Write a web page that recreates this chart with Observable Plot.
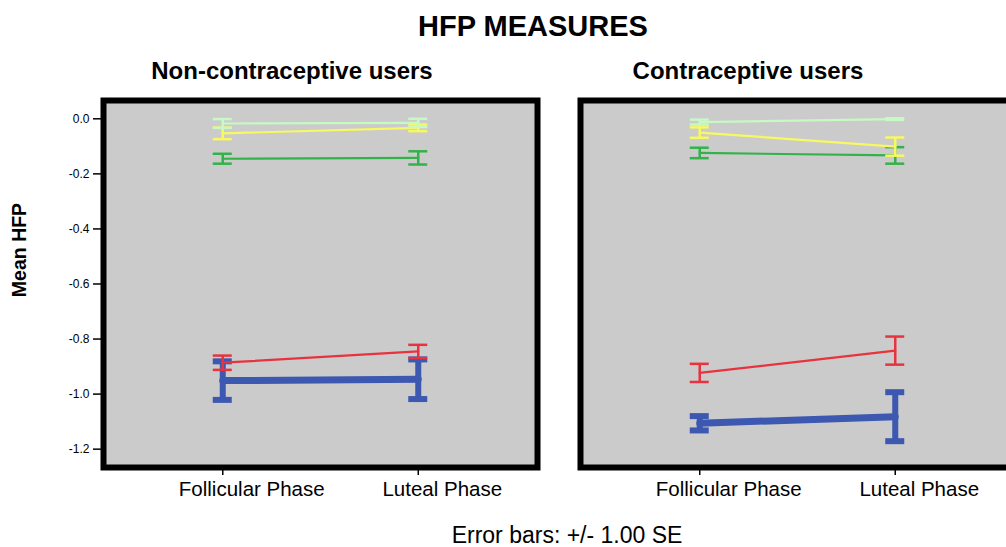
<!DOCTYPE html>
<html>
<head>
<meta charset="utf-8">
<script src="https://cdn.jsdelivr.net/npm/d3@7"></script>
<script src="https://cdn.jsdelivr.net/npm/@observablehq/plot@0.6"></script>
<style>
  html, body { margin: 0; padding: 0; background: white; }
  body { width: 1006px; height: 547px; overflow: hidden; position: relative;
         font-family: "Liberation Sans", Arial, sans-serif; color: #000; }
  .t { position: absolute; white-space: nowrap; line-height: 1; transform: translateX(-50%); }
  #chart { position: absolute; left: 0; top: 80px; width: 1020px; }
</style>
</head>
<body>
<div id="chart"></div>
<div class="t" style="left:533px; top:12px; font-size:29px; font-weight:bold;">HFP MEASURES</div>
<div class="t" style="left:292px; top:58.7px; font-size:24px; font-weight:bold;">Non-contraceptive users</div>
<div class="t" style="left:748px; top:58.7px; font-size:24px; font-weight:bold;">Contraceptive users</div>
<div class="t" style="left:20px; top:250px; font-size:19.5px; font-weight:bold; transform: translate(-50%,-50%) rotate(-90deg);">Mean HFP</div>
<div class="t" style="left:567px; top:523.5px; font-size:23px;">Error bars: +/- 1.00 SE</div>
<script>
// ---- data ----
const groups = ["Non-contraceptive users", "Contraceptive users"];
const phases = ["Follicular Phase", "Luteal Phase"];
const series = ["Measure 1", "Measure 2", "Measure 3", "Measure 4", "Measure 5"];

// means, per series (same order as `series`)
const nonUsersFollicular = [-0.951, -0.886, -0.145, -0.053, -0.017];
const nonUsersLuteal     = [-0.946, -0.845, -0.142, -0.033, -0.015];
const usersFollicular    = [-1.106, -0.923, -0.124, -0.050, -0.012];
const usersLuteal        = [-1.082, -0.842, -0.133, -0.101, -0.001];

// standard errors
const nonUsersFollicularSE = [0.070, 0.026, 0.018, 0.021, 0.016];
const nonUsersLutealSE     = [0.072, 0.024, 0.024, 0.012, 0.015];
const usersFollicularSE    = [0.026, 0.033, 0.019, 0.019, 0.009];
const usersLutealSE        = [0.089, 0.051, 0.030, 0.033, 0.003];

const yTicks = [0, -0.2, -0.4, -0.6, -0.8, -1.0, -1.2];
const yTickLabels = ["0.0", "-0.2", "-0.4", "-0.6", "-0.8", "-1.0", "-1.2"];

// ---- styles ----
const seriesColors = ["#3c58b0", "#e8323e", "#32b34a", "#f8f862", "#c8f8c4"];
const lineWidths  = [7, 2.2, 2.2, 2.2, 2.2];
const barWidths   = [6, 2.5, 2.5, 2.5, 2.5];
const labelShift  = [29, 24];

// ---- build table ----
const rows = [];
series.forEach((s, i) => {
  const cells = [
    [groups[0], phases[0], nonUsersFollicular[i], nonUsersFollicularSE[i]],
    [groups[0], phases[1], nonUsersLuteal[i], nonUsersLutealSE[i]],
    [groups[1], phases[0], usersFollicular[i], usersFollicularSE[i]],
    [groups[1], phases[1], usersLuteal[i], usersLutealSE[i]]
  ];
  for (const [g, p, m, se] of cells) rows.push({series: s, idx: i, group: g, phase: p, mean: m, lo: m - se, hi: m + se});
});

const marks = [Plot.frame({fill: "#cbcbcb"})];
series.forEach((s, i) => {
  const d = rows.filter(r => r.series === s);
  const c = seriesColors[i];
  marks.push(
    Plot.line(d, {x: "phase", y: "mean", z: "group", fx: "group", stroke: c, strokeWidth: lineWidths[i]}),
    Plot.ruleX(d, {x: "phase", y1: "lo", y2: "hi", fx: "group", stroke: c, strokeWidth: barWidths[i]}),
    Plot.ruleY(d, {x1: "phase", x2: "phase", y: "lo", fx: "group", stroke: c, strokeWidth: barWidths[i], insetLeft: -9.5, insetRight: -9.5}),
    Plot.ruleY(d, {x1: "phase", x2: "phase", y: "hi", fx: "group", stroke: c, strokeWidth: barWidths[i], insetLeft: -9.5, insetRight: -9.5})
  );
});
marks.push(
  Plot.frame({stroke: "black", strokeWidth: 6}),
  Plot.axisY({ticks: yTicks, tickFormat: d => yTickLabels[yTicks.indexOf(d)], tickSize: 10, tickPadding: 4,
              fontSize: 12, label: null, strokeWidth: 1.5, fill: "black"}),
  Plot.axisX({tickSize: 8, tickFormat: () => "", label: null, strokeWidth: 1.5}),
  ...phases.map((p, j) => Plot.text([p], {x: d => d, text: d => d, frameAnchor: "bottom", lineAnchor: "top",
                     dy: 14.4, dx: labelShift[j], fontSize: 20.5, fill: "black"}))
);

const chart = Plot.plot({
  width: 1020,
  height: 427,
  marginLeft: 103,
  marginRight: 6,
  marginTop: 20,
  marginBottom: 40,
  style: {fontFamily: "'Liberation Sans', Arial, sans-serif", maxWidth: "none", background: "transparent", color: "#000", overflow: "visible"},
  fx: {domain: groups, paddingInner: 0.0901, paddingOuter: 0, round: false, axis: null, label: null},
  x: {type: "point", domain: phases, padding: 0.61, round: false, axis: null},
  y: {domain: [-1.2666, 0.0665], axis: null},
  marks
});
document.getElementById("chart").appendChild(chart);
</script>
</body>
</html>
